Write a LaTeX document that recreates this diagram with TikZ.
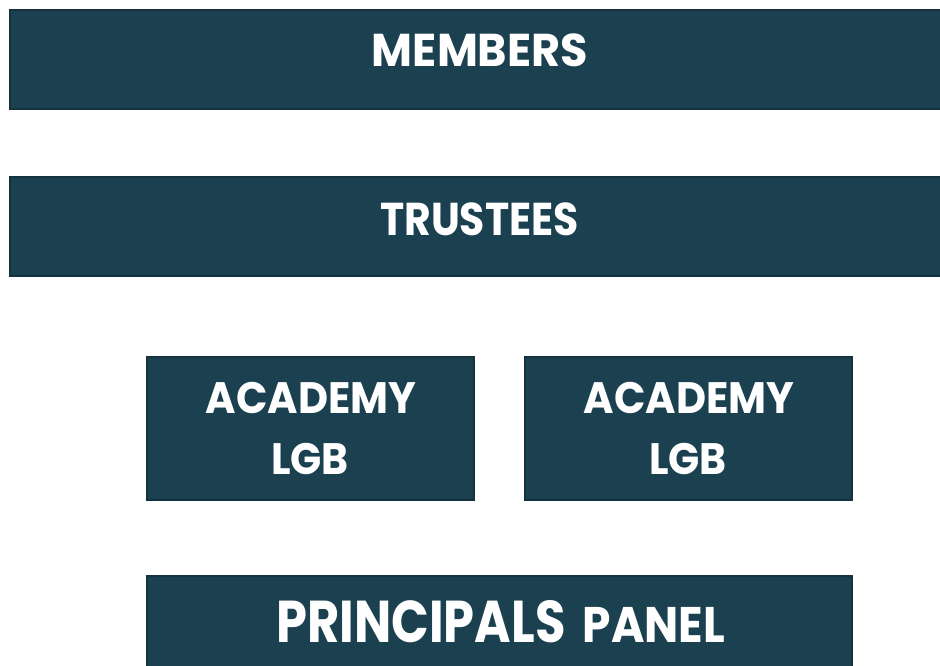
\documentclass[tikz,border=0pt]{standalone}
\usepackage{fontspec}
\setmainfont{Poppins}
\definecolor{boxfill}{HTML}{1B4150}
\definecolor{boxline}{HTML}{15333F}
\newcommand{\fsz}[2]{\fontsize{#1}{#1}\selectfont\addfontfeature{FakeStretch=#2}}
\tikzset{
  panel/.style={draw=boxline, line width=1.2pt, fill=boxfill, rectangle, inner sep=0pt},
  lbl/.style={text=white, anchor=base, inner sep=0pt}
}
\begin{document}
\begin{tikzpicture}[x=1pt,y=-1pt]
\useasboundingbox (0,0) rectangle (940,666);
\clip (0,0) rectangle (940,666);
\node[panel, minimum width=940pt, minimum height=99pt] (members) at (480,59.5) {};
\node[panel, minimum width=940pt, minimum height=99pt] (trustees) at (480,226.5) {};
\node[panel, minimum width=327pt, minimum height=143pt] (lgbA) at (310.5,428.5) {};
\node[panel, minimum width=327pt, minimum height=143pt] (lgbB) at (688.5,428.5) {};
\node[panel, minimum width=705pt, minimum height=120pt] (panel) at (499.5,636) {};
\node[lbl, font=\bfseries\fsz{46}{0.97}] (tm) at (480,67) {MEMBERS};
\node[lbl, font=\bfseries\fsz{46}{0.89}] (tt) at (479.5,235) {TRUSTEES};
\node[lbl, font=\bfseries\fsz{44}{0.94}] (ta1) at (311,413) {ACADEMY};
\node[lbl, font=\bfseries\fsz{44}{0.93}] (tb1) at (310,474) {LGB};
\node[lbl, font=\bfseries\fsz{44}{0.94}] (ta2) at (689,413) {ACADEMY};
\node[lbl, font=\bfseries\fsz{44}{0.93}] (tb2) at (688,474) {LGB};
\node[lbl, font=\bfseries\fsz{59}{0.84}] (tp1) at (421,642) {PRINCIPALS};
\node[lbl, font=\bfseries\fsz{50}{0.91}] (tp2) at (654,642) {PANEL};
\end{tikzpicture}
\end{document}
